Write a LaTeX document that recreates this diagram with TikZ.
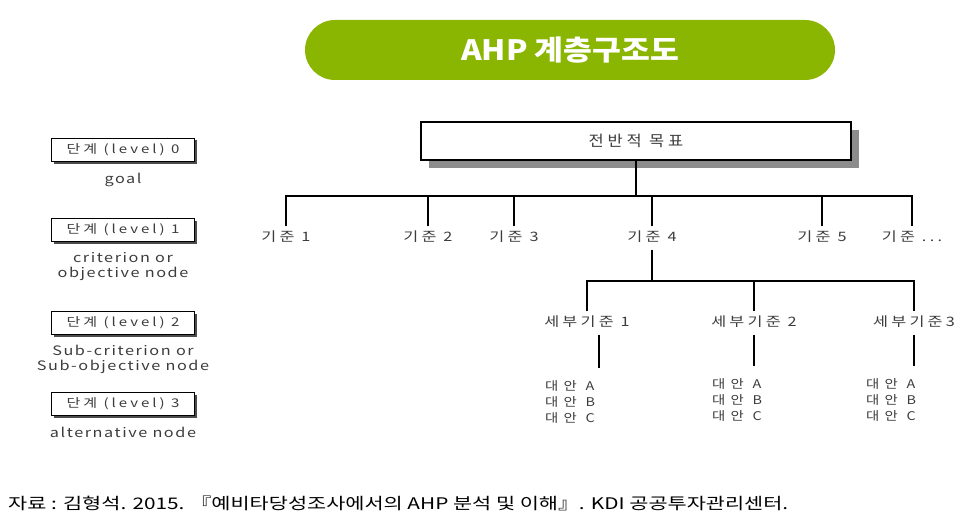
\documentclass[tikz,border=0pt]{standalone}
\usepackage{fontspec}
\usetikzlibrary{positioning,shadows}
\newfontfamily\krfont[FakeStretch=1.25,LetterSpace=25]{Noto Sans CJK KR}
\newfontfamily\krdesc[FakeStretch=1.25,LetterSpace=12]{Noto Sans CJK KR}
\newfontfamily\kralt[FakeStretch=1.2,LetterSpace=45]{Noto Sans CJK KR}
\newfontfamily\krgoal[FakeStretch=1.1,LetterSpace=25]{Noto Sans CJK KR}
\newfontfamily\krtitle[FakeStretch=1.12]{Noto Sans CJK KR}
\newfontfamily\krfoot[FakeStretch=1.3]{Noto Sans CJK KR}
\definecolor{bannergreen}{RGB}{138,181,0}
\definecolor{labelgray}{RGB}{60,60,60}
\tikzset{banner/.style={rectangle, rounded corners=30pt, fill=bannergreen,
    text=white, minimum width=530pt, minimum height=60pt,
    font=\krtitle\bfseries\fontsize{28}{32}\selectfont},
  goalbox/.style={rectangle, draw=black, line width=1.2pt, fill=white,
    minimum width=430pt, minimum height=38pt, text=labelgray,
    drop shadow={shadow xshift=8pt, shadow yshift=-8pt, fill=black!45, opacity=1},
    font=\krgoal\fontsize{15}{17}\selectfont},
  levelbox/.style={rectangle, draw=black, line width=0.8pt, fill=white,
    minimum width=143pt, minimum height=23pt, text=labelgray, inner sep=0pt,
    drop shadow={shadow xshift=2pt, shadow yshift=-2pt, fill=black!70, opacity=1},
    font=\krfont\fontsize{12}{15}\selectfont},
  crit/.style={inner xsep=1pt, inner ysep=6pt, text height=9pt, text depth=2pt,
    text=labelgray, font=\krfont\fontsize{13}{15}\selectfont},
  alt/.style={align=left, anchor=north, inner xsep=0pt, inner ysep=12pt, text=labelgray,
    font=\kralt\fontsize{12}{16}\selectfont},
  leveltext/.style={align=center, inner sep=0pt, text=labelgray,
    font=\krdesc\fontsize{13}{15.5}\selectfont},
  line/.style={-, line width=1.1pt}
}
\begin{document}
\begin{tikzpicture}[x=1pt, y=-1pt]
   \useasboundingbox (0,0) rectangle (977,524);

   %title banner
   \node (title) [banner] at (570,50) {AHP 계층구조도};

   %level column
   \node (lvl-0) [levelbox] at (123,150) {단계 (level) 0};
   \node (desc-0) [leveltext, below=11pt of lvl-0] {goal};
   \node (lvl-1) [levelbox] at (123,230) {단계 (level) 1};
   \node (desc-1) [leveltext, below=10pt of lvl-1] {criterion or\\objective node};
   \node (lvl-2) [levelbox] at (123,323) {단계 (level) 2};
   \node (desc-2) [leveltext, below=10pt of lvl-2] {Sub-criterion or\\Sub-objective node};
   \node (lvl-3) [levelbox] at (123,404) {단계 (level) 3};
   \node (desc-3) [leveltext, below=11pt of lvl-3] {alternative node};

   %goal and criteria
   \node (goal) [goalbox] at (636,141) {전반적 목표};
   \node (crit-1) [crit] at (286,238) {기준 1};
   \node (crit-2) [crit] at (428,238) {기준 2};
   \node (crit-3) [crit] at (514,238) {기준 3};
   \node (crit-4) [crit] at (652,238) {기준 4};
   \node (crit-5) [crit] at (822,238) {기준 5};
   \node (crit-6) [crit] at (912,238) {기준 ...};
   \coordinate (bus-1) at (636,196);

   %sub-criteria
   \node (sub-1) [crit] at (587,323) {세부기준 1};
   \node (sub-2) [crit] at (754,323) {세부기준 2};
   \node (sub-3) [crit] at (914,323) {세부기준3};
   \coordinate (bus-2) at (652,281);

   %alternatives
   \node (alt-1) [alt] at (570,368) {대안 A\\대안 B\\대안 C};
   \node (alt-2) [alt] at (737,366) {대안 A\\대안 B\\대안 C};
   \node (alt-3) [alt] at (891,366) {대안 A\\대안 B\\대안 C};

   \draw[line] (goal.south) -- (bus-1);
   \draw[line] (crit-1.north) -- (crit-1.north |- bus-1) -- (crit-6.north |- bus-1) -- (crit-6.north);
   \foreach \i in {2,...,5}
      \draw[line] (crit-\i.north) -- (crit-\i.north |- bus-1);

   \draw[line] (crit-4.south) -- (crit-4.south |- bus-2);
   \draw[line] (sub-1.north) -- (sub-1.north |- bus-2) -- (sub-3.north |- bus-2) -- (sub-3.north);
   \draw[line] (sub-2.north) -- (sub-2.north |- bus-2);

   \draw[line] ([xshift=12pt]sub-1.south) -- ([xshift=12pt]sub-1.south |- alt-1.north);
   \draw[line] (sub-2.south) -- (sub-2.south |- alt-2.north);
   \draw[line] (sub-3.south) -- (sub-3.south |- alt-3.north);

   %source
   \node (source) [anchor=west, inner sep=0pt, font=\krfoot\fontsize{16}{18}\selectfont] at (8,503)
      {자료 : 김형석. 2015. 『예비타당성조사에서의 AHP 분석 및 이해』. KDI 공공투자관리센터.};

\end{tikzpicture}
\end{document}
